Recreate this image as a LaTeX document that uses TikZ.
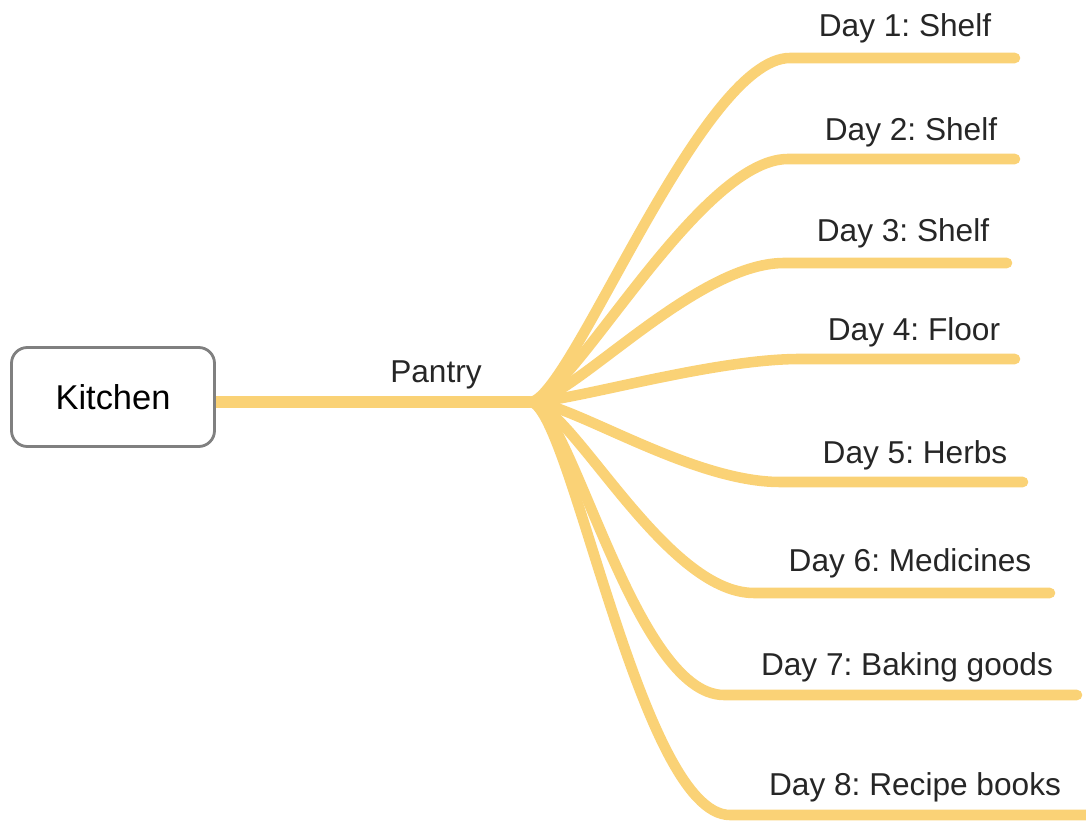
\documentclass[tikz,border=0pt]{standalone}
\usepackage{fontspec}
\setmainfont{Liberation Sans}
\usetikzlibrary{positioning}
\definecolor{branchcol}{RGB}{250,210,118}
\definecolor{boxcol}{RGB}{128,128,128}
\frenchspacing

\begin{document}
\begin{tikzpicture}[
    topic/.style={rectangle,draw=boxcol,line width=0.8pt,rounded corners=4.5pt,fill=white,minimum width=2.03cm,minimum height=0.99cm,font=\fontsize{9.8}{12}\selectfont},
    lbl/.style={inner sep=0pt,text=black!85,font=\fontsize{9}{11}\selectfont},
    trunk/.style={draw=branchcol,line width=3.4pt},
    branch/.style={draw=branchcol,line width=3pt,line cap=round}
    ]
        \useasboundingbox (0,0) rectangle (10.86,-8.21);
        \node [topic](K) at (1.13,-3.97) {Kitchen};
        \coordinate (H) at (5.30,-4.02);
        \node [lbl](P) at (4.36,-3.75) {Pantry};
        % ends of the day branches
        \coordinate (S1) at (7.90,-0.58);  \coordinate (E1) at (10.15,-0.58);
        \coordinate (S2) at (7.88,-1.59);  \coordinate (E2) at (10.15,-1.59);
        \coordinate (S3) at (7.84,-2.63);  \coordinate (E3) at (10.07,-2.63);
        \coordinate (S4) at (8.00,-3.59);  \coordinate (E4) at (10.15,-3.59);
        \coordinate (S5) at (7.80,-4.82);  \coordinate (E5) at (10.23,-4.82);
        \coordinate (S6) at (7.54,-5.93);  \coordinate (E6) at (10.50,-5.93);
        \coordinate (S7) at (7.24,-6.95);  \coordinate (E7) at (10.77,-6.95);
        \coordinate (S8) at (7.30,-8.15);  \coordinate (E8) at (10.90,-8.15);
        \node [lbl](D1) at (9.05,-0.28) {Day 1: Shelf};
        \node [lbl](D2) at (9.11,-1.32) {Day 2: Shelf};
        \node [lbl](D3) at (9.03,-2.33) {Day 3: Shelf};
        \node [lbl](D4) at (9.14,-3.32) {Day 4: Floor};
        \node [lbl](D5) at (9.15,-4.55) {Day 5: Herbs};
        \node [lbl](D6) at (9.10,-5.63) {Day 6: Medicines};
        \node [lbl](D7) at (9.07,-6.67) {Day 7: Baking goods};
        \node [lbl](D8) at (9.15,-7.87) {Day 8: Recipe books};
        \draw [trunk] (K.east |- H) -- (H);
        \draw [branch] (H) .. controls +(0.4,0) and +(-0.9,0) .. (S1) -- (E1);
        \draw [branch] (H) .. controls +(0.4,0) and +(-0.9,0) .. (S2) -- (E2);
        \draw [branch] (H) .. controls +(0.4,0) and +(-0.9,0) .. (S3) -- (E3);
        \draw [branch] (H) .. controls +(0.4,0) and +(-0.9,0) .. (S4) -- (E4);
        \draw [branch] (H) .. controls +(0.4,0) and +(-0.9,0) .. (S5) -- (E5);
        \draw [branch] (H) .. controls +(0.4,0) and +(-0.9,0) .. (S6) -- (E6);
        \draw [branch] (H) .. controls +(0.4,0) and +(-0.9,0) .. (S7) -- (E7);
        \draw [branch] (H) .. controls +(0.4,0) and +(-0.9,0) .. (S8) -- (E8);

\end{tikzpicture}
\end{document}
